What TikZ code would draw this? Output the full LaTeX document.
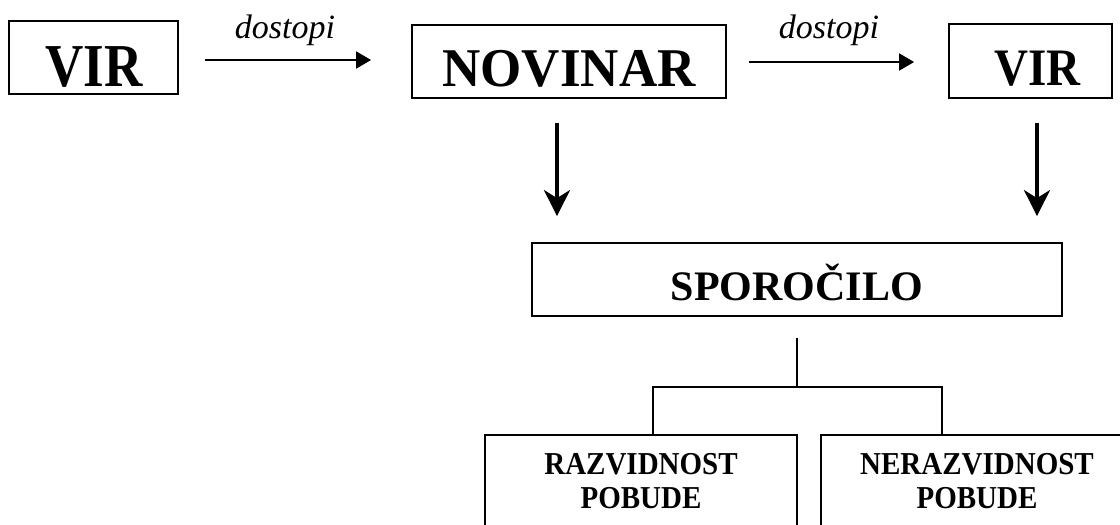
\documentclass[tikz,border=0pt]{standalone}
\usepackage{fontspec}
\setmainfont{Liberation Serif}
\usetikzlibrary{arrows.meta,calc}
\newcommand{\ysc}[2]{\scalebox{1}[#1]{#2}}
\begin{document}
\begin{tikzpicture}[x=1pt,y=1pt,
  box/.style={draw,line width=1.8pt,inner sep=0pt},
  lbl/.style={anchor=base,inner sep=0pt,font=\bfseries},
  toparrow/.style={line width=1.8pt,-{Triangle[length=15pt,width=17pt]}},
  downarrow/.style={line width=4pt,-{Stealth[length=26pt,width=26pt,inset=8pt]}},
  conn/.style={line width=2pt},
  verb/.style={anchor=base,inner sep=0pt,font=\fontsize{34}{40}\selectfont\itshape}]
\useasboundingbox (0,0) rectangle (1120,-525);
\clip (0,0) rectangle (1120,-525);
% top boxes
\node[box,minimum width=169pt,minimum height=73pt] (vir1) at (93.5,-57.5) {};
\node[lbl,font=\bfseries\fontsize{53}{60}\selectfont] (vir1t) at (94,-86) {\ysc{1.15}{VIR}};
\node[box,minimum width=314pt,minimum height=73pt] (nov) at (569,-61.5) {};
\node[lbl,font=\bfseries\fontsize{53}{60}\selectfont] (novt) at (569,-86) {\ysc{1.03}{NOVINAR}};
\node[box,minimum width=163pt,minimum height=74pt] (vir2) at (1030.5,-61) {};
\node[lbl,font=\bfseries\fontsize{47}{60}\selectfont] (vir2t) at (1037.5,-85) {\ysc{1.12}{VIR}};
% horizontal arrows
\draw[toparrow] ([xshift=26pt,yshift=-2.5pt]vir1.east) -- ([xshift=-40pt,yshift=1.5pt]nov.west);
\node[verb] (d1) at (285,-38) {dostopi};
\draw[toparrow] ([xshift=22pt,yshift=-0.5pt]nov.east) -- ([xshift=-34pt,yshift=-1pt]vir2.west);
\node[verb] (d2) at (829,-38) {dostopi};
% message box
\node[box,minimum width=530pt,minimum height=73pt] (spor) at (797,-279.5) {};
\node[lbl,font=\bfseries\fontsize{42}{48}\selectfont] (sport) at (797,-300) {SPOROČILO};
% down arrows
\draw[downarrow] ([xshift=-12pt,yshift=-24pt]nov.south) -- ([xshift=-240pt,yshift=26pt]spor.north);
\draw[downarrow] ([xshift=6.5pt,yshift=-24pt]vir2.south) -- ([xshift=240pt,yshift=26pt]spor.north);
% bottom boxes
\node[box,minimum width=312pt,minimum height=160pt,anchor=north] (raz) at (641,-434) {};
\node[lbl,font=\bfseries\fontsize{29}{34}\selectfont,align=center] (razt) at (641,-508) {\ysc{1.1}{RAZVIDNOST}\\\ysc{1.1}{POBUDE}};
\node[box,minimum width=312pt,minimum height=160pt,anchor=north] (nera) at (977,-434) {};
\node[lbl,font=\bfseries\fontsize{29}{34}\selectfont,align=center] (nerat) at (977,-508) {\ysc{1.1}{NERAZVIDNOST}\\\ysc{1.1}{POBUDE}};
% tree connector
\draw[conn] ([yshift=-21pt]spor.south) -- ++(0,-49) coordinate (j);
\draw[conn] ([xshift=12pt]raz.north) |- (j) -| ([xshift=-35pt]nera.north);
\end{tikzpicture}
\end{document}
